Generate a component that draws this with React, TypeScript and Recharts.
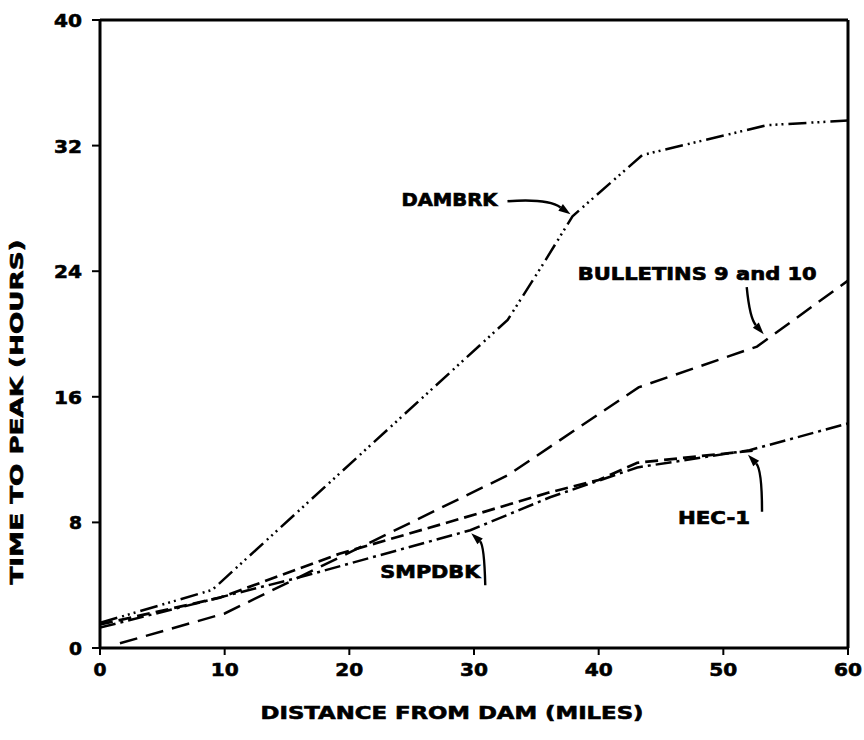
import React from "react";
import { Label, Line, LineChart, ReferenceDot, ReferenceLine, XAxis, YAxis } from "recharts";

// Time to peak (hours) against distance downstream of the dam (miles)
const dambrk = [
  { d: 0, t: 1.6 },
  { d: 9, t: 3.7 },
  { d: 32.7, t: 20.9 },
  { d: 35.5, t: 24.4 },
  { d: 37.9, t: 27.5 },
  { d: 43.5, t: 31.4 },
  { d: 53.5, t: 33.3 },
  { d: 60, t: 33.6 },
];

const bulletins = [
  { d: 1.6, t: 0.3 },
  { d: 10, t: 2.2 },
  { d: 32.7, t: 11.0 },
  { d: 43.2, t: 16.6 },
  { d: 52.7, t: 19.2 },
  { d: 60, t: 23.4 },
];

const hec1 = [
  { d: 0, t: 1.5 },
  { d: 9.6, t: 3.2 },
  { d: 19.2, t: 6.0 },
  { d: 30.5, t: 8.6 },
  { d: 36, t: 9.9 },
  { d: 40, t: 10.7 },
  { d: 43.1, t: 11.8 },
  { d: 52.7, t: 12.6 },
];

const smpdbk = [
  { d: 0, t: 1.3 },
  { d: 16, t: 4.5 },
  { d: 29.7, t: 7.5 },
  { d: 36.1, t: 9.6 },
  { d: 43.1, t: 11.5 },
  { d: 52.1, t: 12.6 },
  { d: 60, t: 14.3 },
];

const xTicks = [0, 10, 20, 30, 40, 50, 60];
const yTicks = [0, 8, 16, 24, 32, 40];

// callouts: label text, point on the curve the arrow touches
const callouts = [
  { text: "DAMBRK", d: 37.9, t: 27.5 },
  { text: "BULLETINS 9 and 10", d: 53.4, t: 19.8 },
  { text: "HEC-1", d: 51.9, t: 12.5 },
  { text: "SMPDBK", d: 29.7, t: 7.5 },
];

const FONT = "'DejaVu Sans', 'Liberation Sans', sans-serif";

// text box and leader curve relative to the arrow tip
const calloutStyle: Record<string, { tx: number; ty: number; w: number; path: number[] }> = {
  DAMBRK: { tx: -171, ty: -10, w: 96, path: [-65, -15, -25, -18, -2, -2] },
  "BULLETINS 9 and 10": { tx: -188, ty: -57, w: 239, path: [-19, -50, -16, -19, -2, -3] },
  "HEC-1": { tx: -69, ty: 72, w: 72, path: [15, 60, 15, 18, 1, 3] },
  SMPDBK: { tx: -90, ty: 48, w: 100, path: [15, 55, 14, 15, 1, 3] },
};

function Callout({ cx, cy, text }: { cx: number; cy: number; text: string }) {
  const s = calloutStyle[text];
  const [x0, y0, qx, qy, x1, y1] = s.path;
  // arrowhead along the last leg of the curve
  const ang = Math.atan2(y1 - qy, x1 - qx);
  const len = 12;
  const hw = 4;
  const bx = x1 - len * Math.cos(ang);
  const by = y1 - len * Math.sin(ang);
  const px = -Math.sin(ang) * hw;
  const py = Math.cos(ang) * hw;
  return (
    <g transform={`translate(${cx},${cy})`}>
      <path d={`M${x0},${y0} Q${qx},${qy} ${bx},${by}`} fill="none" stroke="#000" strokeWidth={2.4} />
      <polygon points={`${x1},${y1} ${bx + px},${by + py} ${bx - px},${by - py}`} fill="#000" />
      <text
        x={s.tx}
        y={s.ty}
        fontFamily={FONT}
        fontWeight={700}
        fontSize={18}
        fill="#000"
        stroke="#000"
        strokeWidth={0.7}
        textLength={s.w}
        lengthAdjust="spacingAndGlyphs"
      >
        {text}
      </text>
    </g>
  );
}

// tick numbers are drawn in one layer above the plot, positioned from the axis scale
function TickNum({ x, y, value, anchor }: { x: number; y: number; value: number; anchor: string }) {
  const w = String(value).length > 1 ? 28 : 13;
  return (
    <text
      x={x}
      y={y}
      textAnchor={anchor}
      fontFamily={FONT}
      fontWeight={700}
      fontSize={18}
      fill="#000"
      stroke="#000"
      strokeWidth={0.6}
      textLength={w}
      lengthAdjust="spacingAndGlyphs"
    >
      {value}
    </text>
  );
}

const noLabel = () => <g />;

export default function App() {
  return (
    <div style={{ position: "absolute", left: 0, top: 0, background: "#fff" }}>
      <LineChart width={864} height={740} margin={{ top: 20, right: 16, left: 40, bottom: 52 }}>
        <XAxis
          dataKey="d"
          type="number"
          domain={[0, 60]}
          ticks={xTicks}
          allowDataOverflow
          height={40}
          tick={noLabel}
          tickSize={7}
          axisLine={{ stroke: "#000", strokeWidth: 3 }}
          tickLine={{ stroke: "#000", strokeWidth: 2 }}
        >
          <Label
            content={({ viewBox }: any) => (
              <text
                x={viewBox.x + viewBox.width / 2 - 22}
                y={714}
                textAnchor="middle"
                dominantBaseline="middle"
                fontFamily={FONT}
                fontWeight={700}
                fontSize={17}
                stroke="#000"
                strokeWidth={0.6}
                textLength={383}
                lengthAdjust="spacingAndGlyphs"
              >
                DISTANCE FROM DAM (MILES)
              </text>
            )}
          />
        </XAxis>
        <YAxis
          type="number"
          domain={[0, 40]}
          ticks={yTicks}
          width={60}
          tick={noLabel}
          tickSize={8}
          axisLine={{ stroke: "#000", strokeWidth: 3 }}
          tickLine={{ stroke: "#000", strokeWidth: 2 }}
        >
          <Label
            content={({ viewBox }: any) => {
              const x = 18;
              const y = viewBox.y + viewBox.height / 2 + 78;
              return (
                <text
                  x={x}
                  y={y}
                  transform={`rotate(-90 ${x} ${y})`}
                  textAnchor="middle"
                  dominantBaseline="middle"
                  fontFamily={FONT}
                  fontWeight={700}
                  fontSize={17}
                  stroke="#000"
                  strokeWidth={0.6}
                  textLength={345}
                  lengthAdjust="spacingAndGlyphs"
                >
                  TIME TO PEAK (HOURS)
                </text>
              );
            }}
          />
        </YAxis>
        <ReferenceLine y={40} stroke="#000" strokeWidth={3} />
        <ReferenceLine x={60} stroke="#000" strokeWidth={3} />
        <Line
          data={dambrk}
          dataKey="t"
          type="linear"
          stroke="#000"
          strokeWidth={2.5}
          strokeDasharray="18 5 2 4 2 4 2 5"
          dot={false}
          isAnimationActive={false}
        />
        <Line
          data={bulletins}
          dataKey="t"
          type="linear"
          stroke="#000"
          strokeWidth={2.5}
          strokeDasharray="18 9"
          dot={false}
          isAnimationActive={false}
        />
        <Line
          data={hec1}
          dataKey="t"
          type="linear"
          stroke="#000"
          strokeWidth={2.7}
          strokeDasharray="13 6"
          dot={false}
          isAnimationActive={false}
        />
        <Line
          data={smpdbk}
          dataKey="t"
          type="linear"
          stroke="#000"
          strokeWidth={2.5}
          strokeDasharray="16 5 3 5"
          dot={false}
          isAnimationActive={false}
        />
        {xTicks.map((v) => (
          <ReferenceDot
            key={`x${v}`}
            x={v}
            y={0}
            r={1}
            ifOverflow="visible"
            shape={(p: any) => <TickNum x={p.cx} y={p.cy + 28} value={v} anchor="middle" />}
          />
        ))}
        {yTicks.map((v) => (
          <ReferenceDot
            key={`y${v}`}
            x={0}
            y={v}
            r={1}
            ifOverflow="visible"
            shape={(p: any) => <TickNum x={p.cx - 18} y={p.cy + 7} value={v} anchor="end" />}
          />
        ))}
        {callouts.map((c) => (
          <ReferenceDot
            key={c.text}
            x={c.d}
            y={c.t}
            r={1}
            shape={(p: any) => <Callout cx={p.cx} cy={p.cy} text={c.text} />}
          />
        ))}
      </LineChart>
    </div>
  );
}
